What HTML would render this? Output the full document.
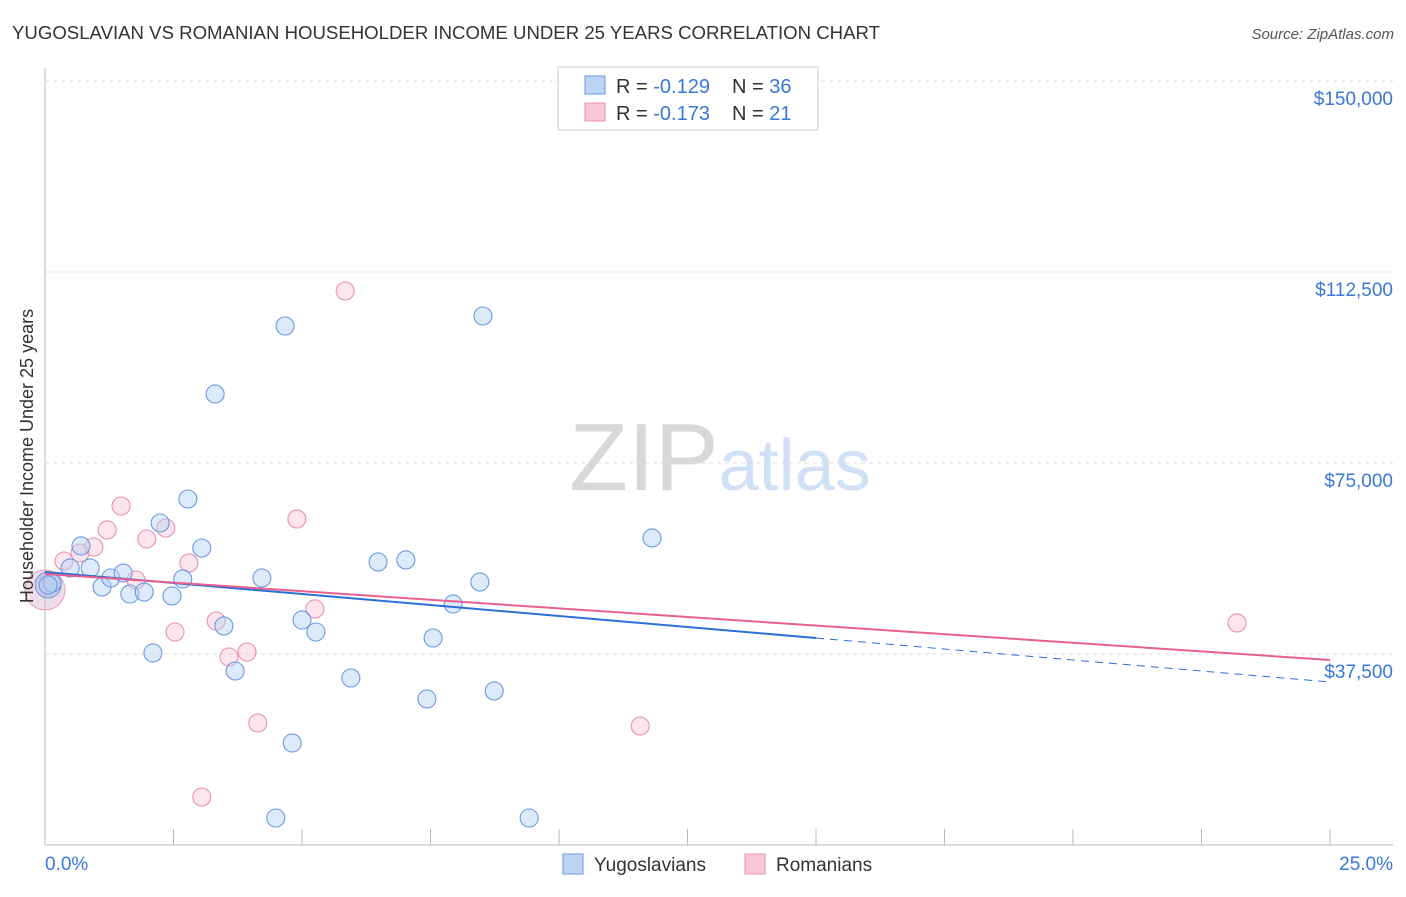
<!DOCTYPE html>
<html><head><meta charset="utf-8"><style>
body{margin:0;background:#fff;font-family:"Liberation Sans",sans-serif;}
svg text{font-family:"Liberation Sans",sans-serif;}
</style></head><body>
<svg id="chart" width="1406" height="892" xmlns="http://www.w3.org/2000/svg">
<text x="12" y="39" font-size="18" fill="#333" textLength="868" lengthAdjust="spacingAndGlyphs">YUGOSLAVIAN VS ROMANIAN HOUSEHOLDER INCOME UNDER 25 YEARS CORRELATION CHART</text>
<text x="1394" y="39" font-size="15" fill="#555" text-anchor="end" font-style="italic">Source: ZipAtlas.com</text>
<text x="720" y="490" font-size="96" text-anchor="middle" fill="#d8d8d8" font-family="Liberation Serif">ZIP<tspan fill="#d0e0f5" font-family="Liberation Sans" font-size="72">atlas</tspan></text>
<g id="grid"></g><g id="marks"></g>
<text transform="translate(33,456) rotate(-90)" font-size="18" fill="#333" text-anchor="middle">Householder Income Under 25 years</text>
<g>
<rect x="558" y="67" width="260" height="63" fill="#fff" stroke="#ccc"/>
<rect x="585" y="76" width="20" height="18" fill="#bcd4f6" stroke="#6a9ae0"/>
<rect x="585" y="103" width="20" height="18" fill="#f9c8d8" stroke="#e890b0"/>
<text x="616" y="93" font-size="20" fill="#333">R = <tspan fill="#3a78d8">-0.129</tspan></text>
<text x="732" y="93" font-size="20" fill="#333">N = <tspan fill="#3a78d8">36</tspan></text>
<text x="616" y="120" font-size="20" fill="#333">R = <tspan fill="#3a78d8">-0.173</tspan></text>
<text x="732" y="120" font-size="20" fill="#333">N =  <tspan fill="#3a78d8">21</tspan></text>
</g>
<g>
<rect x="563" y="854" width="20" height="20" fill="#bcd4f6" stroke="#6a9ae0"/>
<text x="594" y="871" font-size="19" fill="#333">Yugoslavians</text>
<rect x="745" y="854" width="20" height="20" fill="#f9c8d8" stroke="#e890b0"/>
<text x="776" y="871" font-size="19" fill="#333">Romanians</text>
</g>
</svg>
<script>
const yTicks=[37500,75000,112500,150000];
const yTickLabels=["$37,500","$75,000","$112,500","$150,000"];
const xTickLabels=["0.0%","25.0%"];
const bluePct=[0.14,0.49,0.70,0.88,1.11,1.28,1.52,1.65,1.93,2.10,2.24,2.47,2.68,2.78,3.05,3.31,3.48,3.70,4.22,4.67,4.81,4.49,5.00,5.27,5.95,6.48,7.02,7.43,7.55,7.94,8.46,8.52,8.74,9.42,11.81,0.06];
const blueVal=[51440,54390,58710,54390,50660,52420,53400,49280,49670,37700,63220,48890,52230,67930,58310,88550,43000,34160,52420,101900,20030,5300,44180,41820,32790,55570,55960,28670,40640,47320,51640,103860,30240,5300,60280,51050];
const pinkPct=[0.37,0.68,0.95,1.21,1.48,1.77,1.98,2.35,2.53,2.80,3.05,3.33,3.58,3.93,4.14,4.90,5.25,5.84,11.58,23.19];
const pinkVal=[55760,57330,58510,61850,66560,52030,60080,62240,41820,55370,9420,43980,36910,37890,23950,64010,46340,108770,23360,43590];
const blueTrend=[53600,32000]; const blueSolidEnd=15;
const pinkTrend=[53210,36330];
const X=p=>45+p/25*1285, Y=v=>845-v/37500*191;
const NS="http://www.w3.org/2000/svg";
function mk(parent,tag,at){const e=document.createElementNS(NS,tag);for(const k in at)e.setAttribute(k,at[k]);document.getElementById(parent).appendChild(e);return e;}
const ax=mk('grid','line',{x1:45,y1:68,x2:45,y2:845,stroke:'#bbb'});

const xa=mk('grid','line',{x1:45,y1:845,x2:1393,y2:845,stroke:'#bbb'});

for(let i=1;i<=10;i++){const t=mk('grid','line',{x1:X(i*2.5),y1:829,x2:X(i*2.5),y2:845,stroke:'#bbb'});
}
yTicks.forEach((v,i)=>{const g=mk('grid','line',{x1:45,y1:Y(v),x2:1393,y2:Y(v),stroke:'#ddd','stroke-dasharray':'4,4'});

const t=mk('grid','text',{x:1393,y:Y(v)+24,'font-size':19,fill:'#3a78d8','text-anchor':'end'});t.textContent=yTickLabels[i];
});
xTickLabels.forEach((s,i)=>{const t=mk('grid','text',{x:i?1393:45,y:870,'font-size':19,fill:'#3a78d8','text-anchor':i?'end':'start'});t.textContent=s;
});
const big=mk('marks','circle',{cx:X(0),cy:Y(50070),r:20,fill:'rgba(214,170,200,0.4)',stroke:'#e8a0b8'});

const big2=mk('marks','circle',{cx:X(0.06),cy:Y(51050),r:13,fill:'rgba(150,170,225,0.4)',stroke:'#6a9ae0'});

pinkPct.forEach((p,i)=>{const c=mk('marks','circle',{cx:X(p),cy:Y(pinkVal[i]),r:9,fill:'rgba(248,190,210,0.4)',stroke:'#e890b0','stroke-width':1.1});
});
bluePct.forEach((p,i)=>{const c=mk('marks','circle',{cx:X(p),cy:Y(blueVal[i]),r:9,fill:'rgba(180,208,245,0.45)',stroke:'#6a9ae0','stroke-width':1.1});
});
const bv=p=>blueTrend[0]+(blueTrend[1]-blueTrend[0])*p/25;
const b1=mk('marks','line',{x1:X(0),y1:Y(bv(0)),x2:X(blueSolidEnd),y2:Y(bv(blueSolidEnd)),stroke:'#2a6fd6','stroke-width':2});

const b2=mk('marks','line',{x1:X(blueSolidEnd),y1:Y(bv(blueSolidEnd)),x2:X(25),y2:Y(bv(25)),stroke:'#2a6fd6','stroke-width':1,'stroke-dasharray':'8,6'});

const p1=mk('marks','line',{x1:X(0),y1:Y(pinkTrend[0]),x2:X(25),y2:Y(pinkTrend[1]),stroke:'#e8608e','stroke-width':2});

</script>
</body></html>
